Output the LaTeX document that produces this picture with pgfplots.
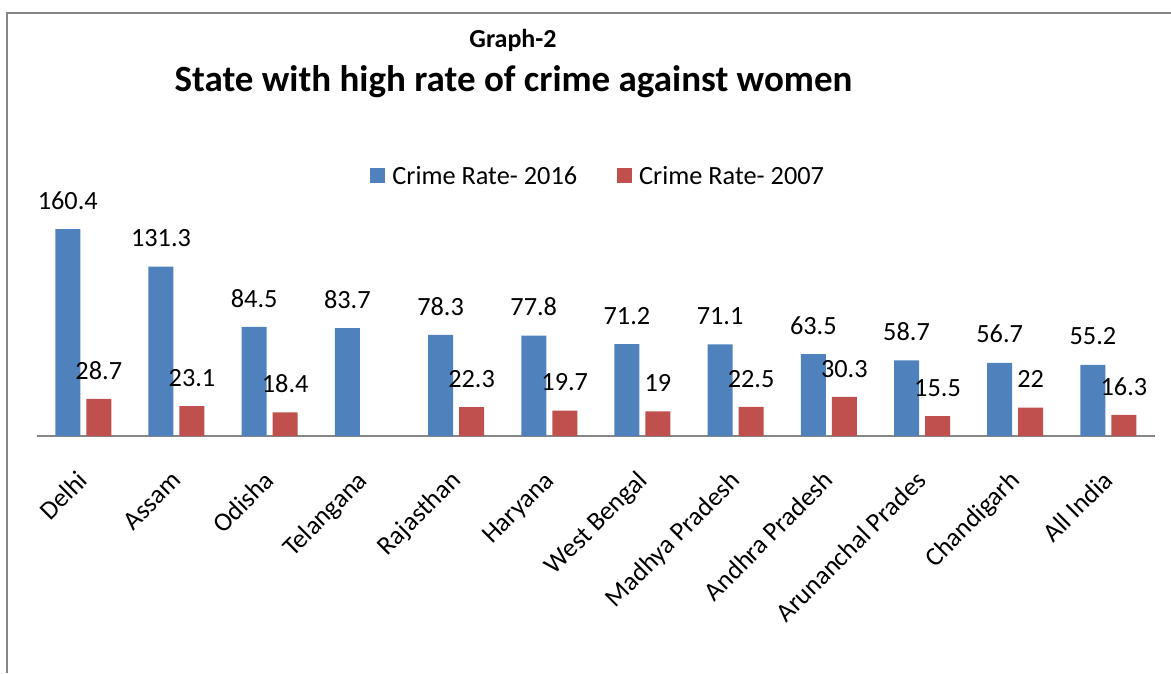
\documentclass[border=0pt]{standalone}
\usepackage{fontspec}
\setmainfont{Carlito}
\usepackage{pgfplots}
\pgfplotsset{compat=1.18}
\definecolor{xblue}{HTML}{4F81BD}
\definecolor{xred}{HTML}{C0504D}
\definecolor{xgrey}{HTML}{868686}
\newcommand{\lblfont}{\fontsize{26.3}{31}\selectfont}
\begin{document}
\begin{tikzpicture}[x=1pt,y=1pt]
\begin{axis}[
  at={(36.7pt,237pt)}, anchor=south west,
  scale only axis, width=1118.3pt, height=232.2pt,
  xmin=-0.5, xmax=11.5, ymin=0, ymax=180,
  axis x line*=bottom, axis y line=none,
  x axis line style={xgrey, line width=2pt, -},
  xtick={0,1,2,3,4,5,6,7,8,9,10,11},
  xticklabels={Delhi,Assam,Odisha,Telangana,Rajasthan,Haryana,West Bengal,Madhya Pradesh,Andhra Pradesh,Arunanchal Prades,Chandigarh,All India},
  major tick length=0pt,
  ytick=\empty,
  xticklabel style={font=\lblfont, inner sep=0pt, xshift=6pt, yshift=-46pt, rotate=45, anchor=base east},
  ybar=6pt, bar width=25pt,
  nodes near coords,
  every node near coord/.append style={font=\lblfont, inner sep=0pt, yshift=19.5pt, text=black},
  /pgf/number format/assume math mode=true,
  clip=false,
  legend columns=2,
  legend style={at={(0.5025,1.12)}, anchor=center, draw=none, fill=none, font=\lblfont,
    nodes={inner xsep=3.5pt, inner ysep=2pt, text depth=0.15em},
    /tikz/every odd column/.append style={column sep=4pt},
    /tikz/every even column/.append style={column sep=36pt}},
  legend image code/.code={\fill[#1] (0pt,-7pt) rectangle (15pt,8pt);},
]
\addplot[fill=xblue, draw=none] coordinates {
 (0,160.4) (1,131.3) (2,84.5) (3,83.7) (4,78.3) (5,77.8)
 (6,71.2) (7,71.1) (8,63.5) (9,58.7) (10,56.7) (11,55.2)};
\addlegendentry{Crime Rate- 2016}
\addplot[fill=xred, draw=none] coordinates {
 (0,28.7) (1,23.1) (2,18.4) (4,22.3) (5,19.7)
 (6,19) (7,22.5) (8,30.3) (9,15.5) (10,22) (11,16.3)};
\addlegendentry{Crime Rate- 2007}
\end{axis}
\node[anchor=base, font=\bfseries\fontsize{26}{31}\selectfont] at (513pt,625pt) {Graph-2};
\node[anchor=base, font=\bfseries\fontsize{37}{44}\selectfont] at (513.5pt,581pt) {State with high rate of crime against women};
\draw[xgrey, line width=2pt] (6.7pt,0pt) -- (6.7pt,659.7pt) -- (1171pt,659.7pt);
\pgfresetboundingbox
\path[use as bounding box] (0pt,0pt) rectangle (1171pt,673pt);
\end{tikzpicture}
\end{document}
